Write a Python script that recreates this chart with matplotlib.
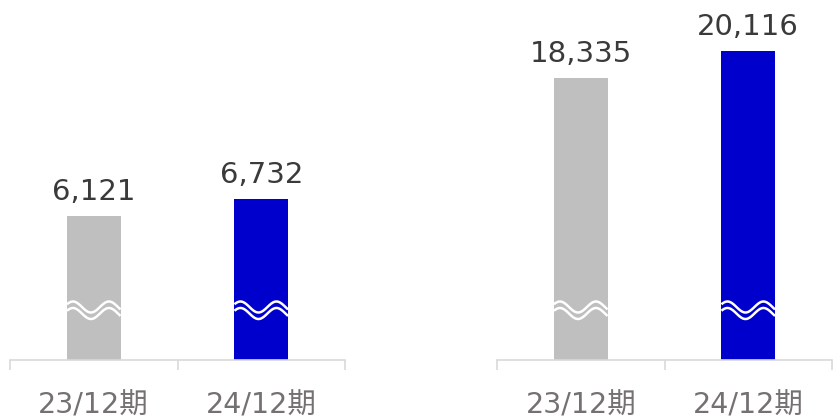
import numpy as np
import matplotlib
matplotlib.use("Agg")
import matplotlib.pyplot as plt
import matplotlib.transforms as mtransforms

plt.rcParams['font.family'] = ['DejaVu Sans', 'Noto Sans CJK JP']

periods = ['23/12期', '24/12期']
left_values = [6121, 6732]
right_values = [18335, 20116]
bar_colors = ['#bfbfbf', '#0000cc']

# y-limits chosen so the broken-axis bars look like the original
left_ylim = (963, 13165)
right_ylim = (-254, 22141)

fig = plt.figure(figsize=(8.33, 4.2), dpi=100)
ax_l = fig.add_axes([10 / 833, 60.5 / 420, 335 / 833, 339.5 / 420])
ax_r = fig.add_axes([497 / 833, 60.5 / 420, 335 / 833, 339.5 / 420])

axis_color = '#d9d9d9'
bar_w = 0.32


def draw_panel(ax, values, ylim):
    x = np.arange(len(values))
    base = ylim[0]
    bars = ax.bar(x, [v - base for v in values], bottom=base, width=bar_w,
                  color=bar_colors, zorder=2)
    ax.set_xlim(-0.5, len(values) - 0.5)
    ax.set_ylim(*ylim)

    for s in ['top', 'left', 'right']:
        ax.spines[s].set_visible(False)
    ax.spines['bottom'].set_color(axis_color)
    ax.spines['bottom'].set_linewidth(1.2)
    ax.set_yticks([])

    ax.set_xticks(x)
    ax.set_xticklabels(periods, fontsize=20.5, color='#767171')
    ax.tick_params(axis='x', which='major', length=0, pad=23)
    ax.set_xticks(np.arange(len(values) + 1) - 0.5, minor=True)
    ax.tick_params(axis='x', which='minor', length=7, width=1.2, color=axis_color)

    for b, v in zip(bars, values):
        ax.annotate(f'{v:,}', (b.get_x() + b.get_width() / 2, v),
                    xytext=(0, 11.5), textcoords='offset points',
                    ha='center', va='baseline', fontsize=21, color='#3a3a3a')

    # white double wave marking the broken axis
    trans = mtransforms.blended_transform_factory(ax.transData, ax.transAxes)
    period = 36 / 167.5
    for b in bars:
        x0 = b.get_x()
        xs = np.linspace(x0, x0 + b.get_width(), 100)
        wave = np.cos(2 * np.pi * (xs - x0 - 6 / 167.5) / period)
        for off in [0, -6.5]:
            ys = (52.5 + off) / 339.5 + wave * 5.5 / 339.5
            ax.plot(xs, ys, color='white', lw=1.8, transform=trans,
                    solid_capstyle='butt', zorder=3)


draw_panel(ax_l, left_values, left_ylim)
draw_panel(ax_r, right_values, right_ylim)

fig.savefig('out.png', dpi=100)
